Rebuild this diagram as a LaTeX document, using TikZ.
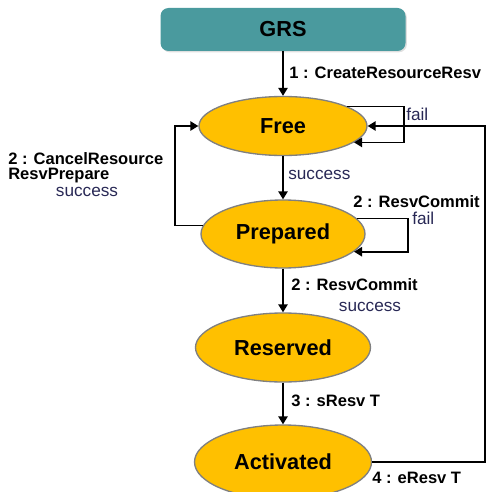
\documentclass[tikz,border=0pt]{standalone}
\usepackage{fontspec}
\setmainfont{Liberation Sans}
\usetikzlibrary{shapes.geometric,arrows.meta,shadows}
\definecolor{grsteal}{RGB}{74,154,158}
\definecolor{stategold}{RGB}{255,192,0}
\definecolor{stateedge}{RGB}{128,128,128}
\definecolor{notenavy}{RGB}{40,40,85}

\begin{document}
\begin{tikzpicture}[x=0.75pt,y=-0.75pt]

\clip (0,0) rectangle (486,492);

\tikzstyle {state}=[draw=stateedge,line width=1pt,fill=stategold,shape=ellipse,
     inner sep=0pt,font=\fontsize{16.3}{18}\selectfont\bfseries];

\tikzstyle {call}=[inner sep=0pt,anchor=west,
     font=\fontsize{12.4}{11.5}\selectfont\bfseries];

\tikzstyle {result}=[inner sep=0pt,text=notenavy,
     font=\fontsize{12.9}{14}\selectfont];

\tikzstyle {link}=[-{Triangle[width=7pt,length=6pt]},line width=1.2pt];

% Manager box
\draw (283,29.5) node [fill=grsteal,rounded corners=6pt,
                       minimum width=183.75pt,minimum height=32.25pt,
                       drop shadow={opacity=0.25,shadow xshift=1pt,shadow yshift=-1pt},
                       font=\fontsize{16.3}{18}\selectfont\bfseries]
            (grs) {GRS};

% States
\draw (283,126) node [state,minimum width=126pt,minimum height=44.25pt] (free) {Free};
\draw (283,234) node [state,minimum width=123pt,minimum height=51pt] (prep) {Prepared};
\draw (283,347.5) node [state,minimum width=131.25pt,minimum height=51.75pt] (resv) {Reserved};
\draw (283,462) node [state,minimum width=132.75pt,minimum height=55.5pt] (act) {Activated};

% Main chain
\draw [link] (grs) -- (free);
\draw [link] (free) -- (prep);
\draw [link] (prep) -- (resv);
\draw [link] (resv) -- (act);

% Retry loops
\draw [link] (free.17) -| (404,125) |- (free.-13);
\draw [link] (prep.12) -| (408,234) |- (prep.-14);

% Back to Free
\draw [link] (prep.174) -| (175,180) |- (free.west);
\draw [link] (act.east) -| (485,300) |- (free.east);

% Labels of transitions
\draw (289,73) node [call] (createtext) {1 : CreateResourceResv};
\draw (288,175) node [result,anchor=west] (okfree) {success};
\draw (406,114) node [result,anchor=west] (failfree) {fail};
\draw (353,202) node [call] (committop) {2 : ResvCommit};
\draw (412,218) node [result,anchor=west] (failprep) {fail};
\draw (8,167.5) node [call,align=left] (canceltext)
  {2 : CancelResource\\ResvPrepare};
\draw (87,192) node [result] (okcancel) {success};
\draw (291,285) node [call] (commitdown) {2 : ResvCommit};
\draw (370,307) node [result] (okcommit) {success};
\draw (291,401) node [call] (starttext) {3 : sResv T};
\draw (372,478) node [call] (endtext) {4 : eResv T};
\end{tikzpicture}
\end{document}
